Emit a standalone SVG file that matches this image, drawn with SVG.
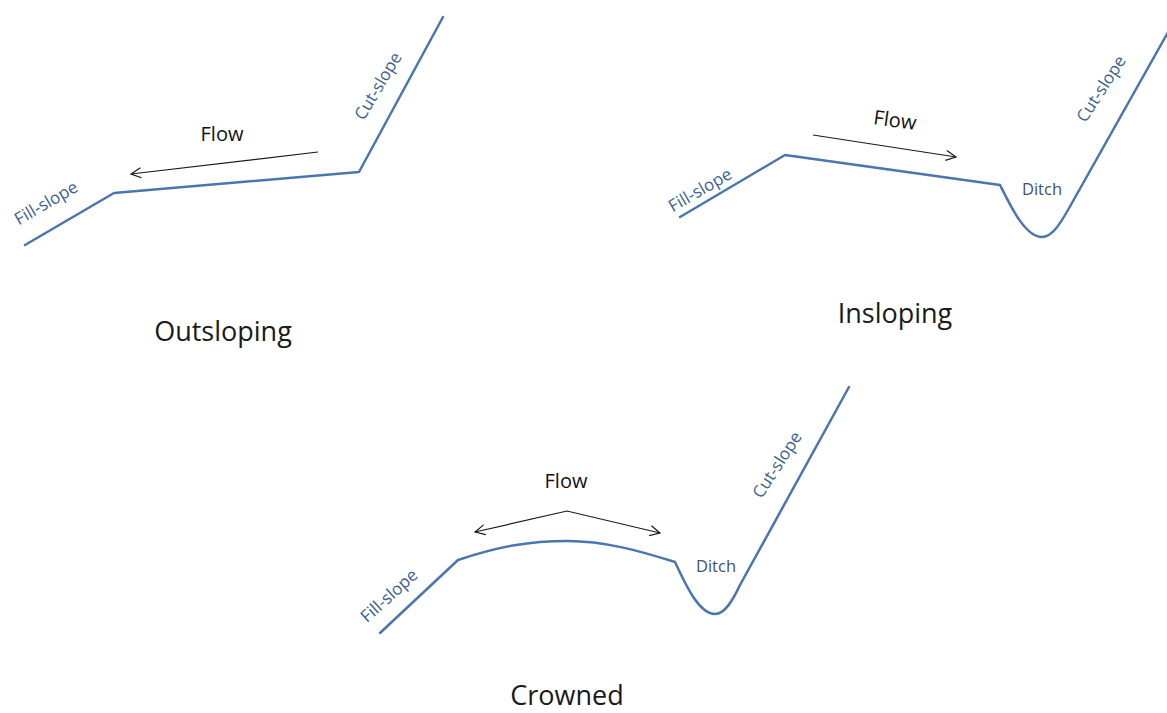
<svg xmlns="http://www.w3.org/2000/svg" width="1167" height="713" viewBox="0 0 1167 713">
  <defs>
    <style>
      .ground { fill: none; stroke: #4a76b0; stroke-width: 2.5; stroke-linejoin: round; stroke-linecap: round; }
      .flow { fill: none; stroke: #1a1a1a; stroke-width: 1.2; }
      .label { font-family: "Open Sans", "Liberation Sans", sans-serif; font-size: 17px; fill: #3c5f93; text-anchor: middle; }
      .ditch { font-family: "Open Sans", "Liberation Sans", sans-serif; font-size: 16.5px; fill: #44526a; text-anchor: middle; }
      .flowtxt { font-family: "Open Sans", "Liberation Sans", sans-serif; font-size: 20px; fill: #111; text-anchor: middle; }
      .title { font-family: "Open Sans", "Liberation Sans", sans-serif; font-size: 27px; fill: #1a1a1a; text-anchor: middle; }
    </style>
    <marker id="openHead" viewBox="0 0 12 12" refX="11" refY="6" markerWidth="12" markerHeight="12" markerUnits="userSpaceOnUse" orient="auto-start-reverse">
      <path d="M1,1 L11,6 L1,11" fill="none" stroke="#1a1a1a" stroke-width="1.2"/>
    </marker>
  </defs>
  <rect width="1167" height="713" fill="#ffffff"/>

  <!-- Outsloping road profile -->
  <g id="outsloping">
    <path class="ground" d="M25,245 L114,193 L359,172 L443,17"/>
    <text class="label" transform="translate(49,208) rotate(-30)">Fill-slope</text>
    <text class="label" transform="translate(383,89) rotate(-59)">Cut-slope</text>
    <text class="flowtxt" x="222" y="141">Flow</text>
    <text class="title" x="223" y="341">Outsloping</text>
  </g>

  <!-- Insloping road profile with ditch -->
  <g id="insloping">
    <path class="ground" d="M680,217 L785,155 L1000,185 C1010,205 1025,237 1042,237 C1052,237 1060,224 1068,210 L1176,18"/>
    <text class="label" transform="translate(703,195) rotate(-30)">Fill-slope</text>
    <text class="label" transform="translate(1106,92) rotate(-57)">Cut-slope</text>
    <text class="ditch" x="1042" y="195">Ditch</text>
    <text class="flowtxt" transform="translate(894,127) rotate(8)">Flow</text>
    <text class="title" x="895" y="323">Insloping</text>
  </g>

  <!-- Crowned road profile with ditch -->
  <g id="crowned">
    <path class="ground" d="M380,633 L458,560 C500,546 530,541 567,541 C605,541 640,551 675,562 C688,590 700,614 715,614 C725,614 733,600 740,585 L849,387"/>
    <text class="label" transform="translate(393,600) rotate(-42)">Fill-slope</text>
    <text class="label" transform="translate(782,468) rotate(-57)">Cut-slope</text>
    <text class="ditch" x="716" y="572">Ditch</text>
    <text class="flowtxt" x="566" y="488">Flow</text>
    <text class="title" x="567" y="705">Crowned</text>
  </g>

  <!-- Flow direction arrows -->
  <g id="connectors">
    <line class="flow" x1="318" y1="152" x2="131" y2="174" marker-end="url(#openHead)"/>
    <line class="flow" x1="813" y1="135" x2="956" y2="157" marker-end="url(#openHead)"/>
    <polyline class="flow" points="475,532 567,511 660,533" marker-start="url(#openHead)" marker-end="url(#openHead)"/>
  </g>
</svg>
